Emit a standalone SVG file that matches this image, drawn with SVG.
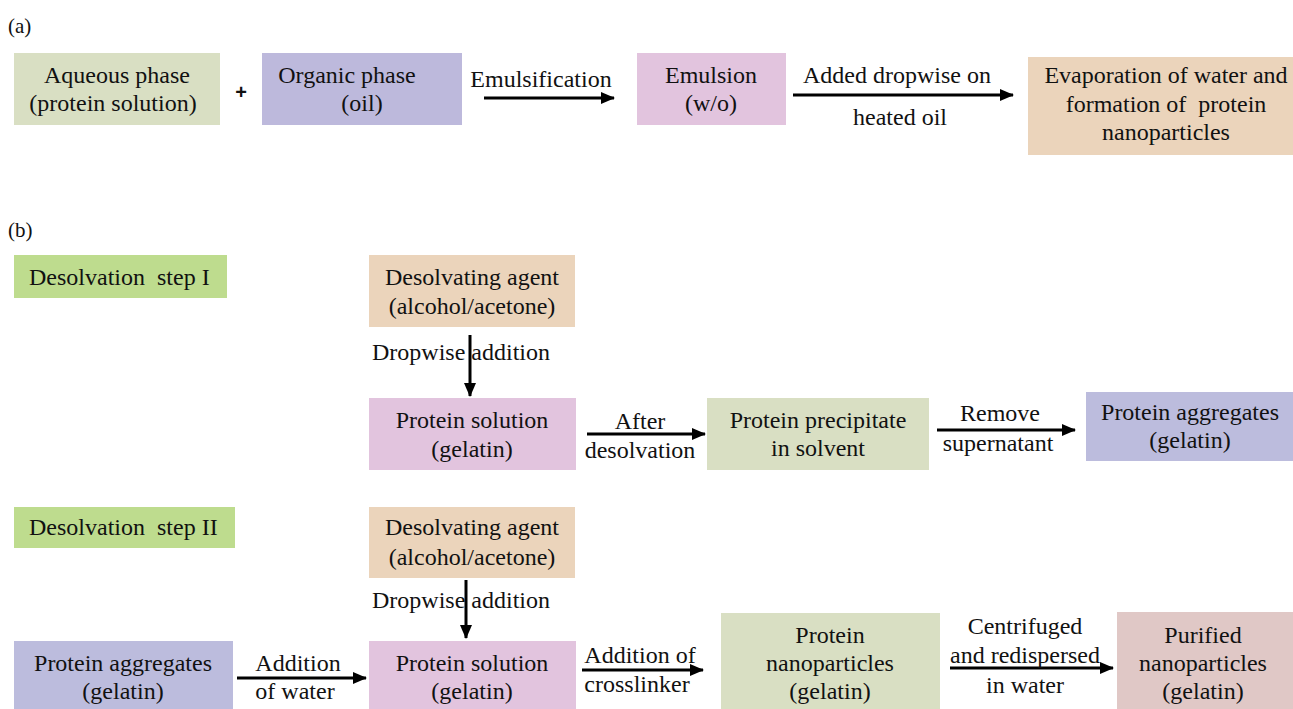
<svg xmlns="http://www.w3.org/2000/svg" width="1293" height="709" viewBox="0 0 1293 709">
<defs>
<marker id="ah" markerUnits="userSpaceOnUse" markerWidth="14" markerHeight="12" refX="13" refY="6" orient="auto">
<path d="M0,0 L14,6 L0,12 Z" fill="#000"/>
</marker>
<style>
.c{text-anchor:middle}
.ln{stroke:#000;stroke-width:3;fill:none;marker-end:url(#ah)}
.sage{fill:#d9dfc3}
.lav{fill:#bdb9dc}
.pink{fill:#e2c4de}
.tan{fill:#ebd4bb}
.grn{fill:#bedc8e}
.blu{fill:#bcbcdd}
.rose{fill:#e0c8c6}
</style>
</defs>
<rect width="1293" height="709" fill="#fff"/>
<g font-family="Liberation Serif" font-size="24" fill="#111">
<text x="8" y="33" font-size="21">(a)</text>
<text x="8" y="237" font-size="21">(b)</text>

<g id="a_aqueous"><rect class="sage" x="14" y="53" width="206" height="72"/><text class="c" x="117" y="83">Aqueous phase</text><text class="c" x="113" y="111">(protein solution)</text></g>
<g id="a_plus"><text class="c" x="241" y="99" font-family="Liberation Sans" font-weight="bold" font-size="20">+</text></g>
<g id="a_organic"><rect class="lav" x="262" y="53" width="200" height="72"/><text class="c" x="347" y="83">Organic phase</text><text class="c" x="362" y="111">(oil)</text></g>
<g id="a_emulsion"><rect class="pink" x="637" y="53" width="149" height="72"/><text class="c" x="711" y="83">Emulsion</text><text class="c" x="711" y="111">(w/o)</text></g>
<g id="a_evap"><rect class="tan" x="1028" y="57" width="265" height="98"/><text class="c" x="1166" y="83">Evaporation of water and</text><text class="c" x="1166" y="112">formation of&#160; protein</text><text class="c" x="1166" y="140">nanoparticles</text></g>

<g id="b_step1"><rect class="grn" x="14" y="255" width="213" height="43"/><text x="29" y="285">Desolvation&#160; step I</text></g>
<g id="b_agent1"><rect class="tan" x="369" y="255" width="206" height="72"/><text class="c" x="472" y="285">Desolvating agent</text><text class="c" x="472" y="314">(alcohol/acetone)</text></g>
<g id="b_sol1"><rect class="pink" x="369" y="398" width="207" height="72"/><text class="c" x="472" y="428">Protein solution</text><text class="c" x="472" y="457">(gelatin)</text></g>
<g id="b_precip"><rect class="sage" x="707" y="398" width="222" height="72"/><text class="c" x="818" y="428">Protein precipitate</text><text class="c" x="818" y="456">in solvent</text></g>
<g id="b_agg1"><rect class="blu" x="1086" y="392" width="207" height="69"/><text class="c" x="1190" y="420">Protein aggregates</text><text class="c" x="1190" y="448">(gelatin)</text></g>

<g id="b_step2"><rect class="grn" x="14" y="507" width="221" height="41"/><text x="29" y="535">Desolvation&#160; step II</text></g>
<g id="b_agent2"><rect class="tan" x="369" y="507" width="206" height="71"/><text class="c" x="472" y="535">Desolvating agent</text><text class="c" x="472" y="565">(alcohol/acetone)</text></g>
<g id="b_agg2"><rect class="blu" x="14" y="641" width="219" height="68"/><text class="c" x="123" y="671">Protein aggregates</text><text class="c" x="123" y="699">(gelatin)</text></g>
<g id="b_sol2"><rect class="pink" x="369" y="641" width="207" height="68"/><text class="c" x="472" y="671">Protein solution</text><text class="c" x="472" y="699">(gelatin)</text></g>
<g id="b_nano"><rect class="sage" x="721" y="613" width="219" height="96"/><text class="c" x="830" y="643">Protein</text><text class="c" x="830" y="671">nanoparticles</text><text class="c" x="830" y="699">(gelatin)</text></g>
<g id="b_purified"><rect class="rose" x="1117" y="612" width="176" height="97"/><text class="c" x="1203" y="643">Purified</text><text class="c" x="1203" y="671">nanoparticles</text><text class="c" x="1203" y="699">(gelatin)</text></g>

<g id="connectors">
<line class="ln" x1="484" y1="98" x2="614" y2="98"/>
<text class="c" x="541" y="87">Emulsification</text>
<line class="ln" x1="793" y1="95" x2="1013" y2="95"/>
<text class="c" x="897" y="83">Added dropwise on</text>
<text class="c" x="900" y="125">heated oil</text>

<line class="ln" x1="470" y1="335" x2="470" y2="396"/>
<text class="c" x="461" y="360">Dropwise addition</text>
<line class="ln" x1="587" y1="434" x2="705" y2="434"/>
<text class="c" x="640" y="429">After</text>
<text class="c" x="640" y="458">desolvation</text>
<line class="ln" x1="937" y1="430" x2="1075" y2="430"/>
<text class="c" x="1000" y="421">Remove</text>
<text class="c" x="998" y="451">supernatant</text>

<line class="ln" x1="466" y1="580" x2="466" y2="638"/>
<text class="c" x="461" y="608">Dropwise addition</text>
<line class="ln" x1="237" y1="678" x2="366" y2="678"/>
<text class="c" x="298" y="671">Addition</text>
<text class="c" x="295" y="699">of water</text>
<line class="ln" x1="582" y1="670" x2="703" y2="670"/>
<text class="c" x="640" y="663">Addition of</text>
<text class="c" x="637" y="692">crosslinker</text>
<line class="ln" x1="950" y1="668" x2="1113" y2="668"/>
<text class="c" x="1025" y="634">Centrifuged</text>
<text class="c" x="1025" y="663">and redispersed</text>
<text class="c" x="1025" y="693">in water</text>
</g>
</g>
</svg>
